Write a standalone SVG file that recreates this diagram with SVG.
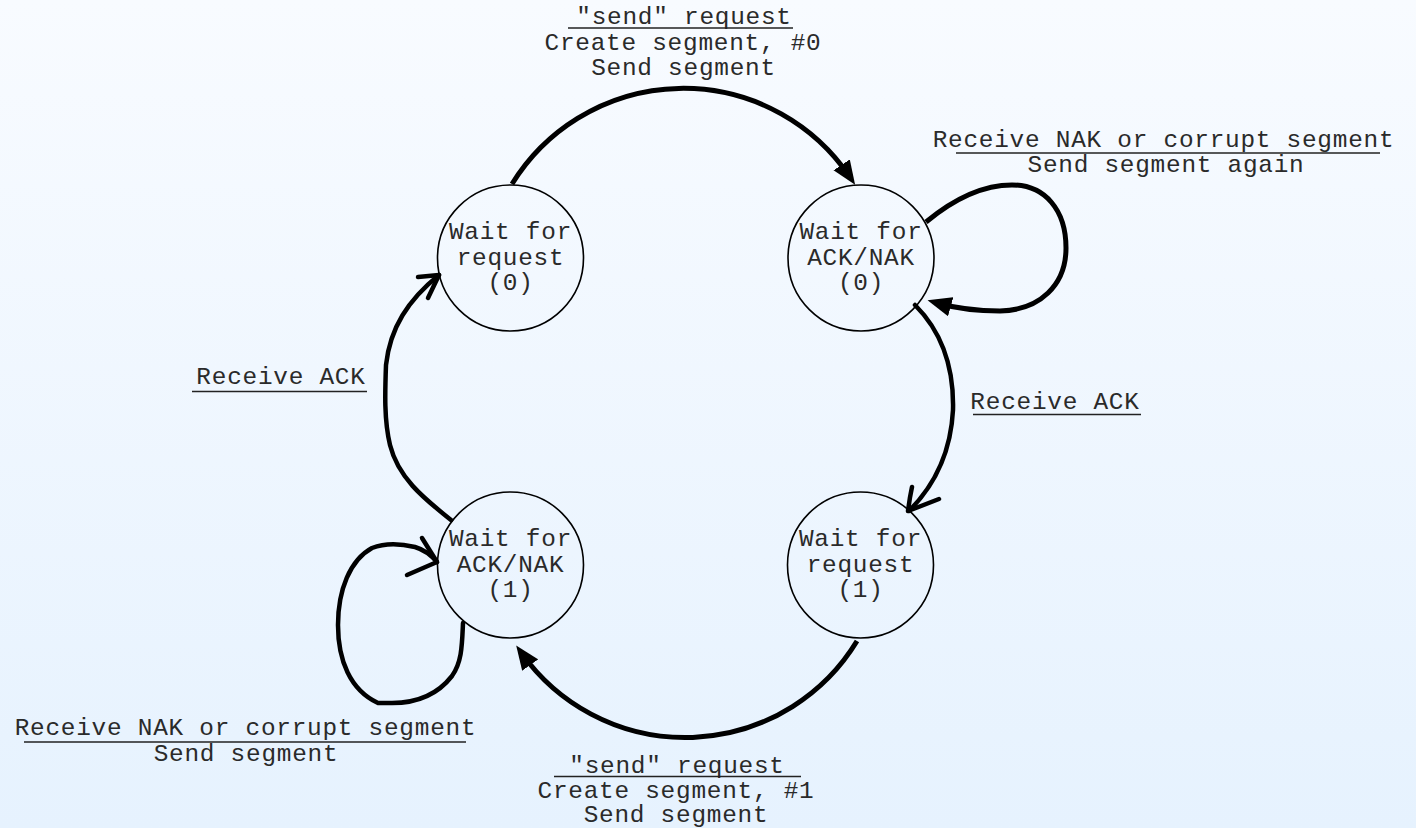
<svg xmlns="http://www.w3.org/2000/svg" width="1416" height="828" viewBox="0 0 1416 828">
  <defs>
    <linearGradient id="bg" x1="0" y1="0" x2="0" y2="1">
      <stop offset="0" stop-color="#f8fbff"/>
      <stop offset="1" stop-color="#e6f2fe"/>
    </linearGradient>
    <!-- filled arrowhead; path ends 9px behind the tip -->
    <marker id="tri" markerUnits="userSpaceOnUse" markerWidth="24" markerHeight="20" viewBox="0 0 22 18" refX="13" refY="9" orient="auto">
      <path d="M0,0 L22,9 L0,18 Z" fill="#000"/>
    </marker>
    <style>
      .state { fill: none; stroke: #000; stroke-width: 1.6; }
      .lbl { font-family: "Liberation Mono", "Courier New", monospace; font-size: 24.4px; letter-spacing: 0.75px; fill: #2a2a2a; text-anchor: middle; }
      .ul { stroke: #222; stroke-width: 1.6; }
      .edge { fill: none; stroke: #000; stroke-width: 5; }
      .hand { fill: none; stroke: #000; stroke-width: 4.5; stroke-linejoin: round; stroke-linecap: round; }
    </style>
  </defs>

  <rect width="1416" height="828" fill="url(#bg)"/>

  <!-- transitions -->
  <g id="connectors">
    <!-- wait for request (0) -> wait for ACK/NAK (0) -->
    <path class="edge" d="M512,184 A201,201 0 0,1 849.6,176.6" marker-end="url(#tri)"/>
    <!-- self loop on ACK/NAK (0) -->
    <path class="edge" d="M926,222 C955,198 985,185 1012,185 C1045,185 1066,210 1066,248 C1066,285 1040,310 1000,311 C975,311 955,308 937,303" marker-end="url(#tri)"/>
    <!-- ACK/NAK (0) -> request (1) -->
    <path class="hand" d="M915,305 C943,333 954,370 953,410 C951,450 936,484 909,511"/>
    <path class="hand" d="M912,487 C910,496 909,503 908,511 L939,499"/>
    <!-- request (1) -> ACK/NAK (1) -->
    <path class="edge" d="M857,641 A201,201 0 0,1 521.9,653.6" marker-end="url(#tri)"/>
    <!-- ACK/NAK (1) -> request (0) -->
    <path class="hand" d="M451,520 C422,497 398,477 390,445 C384,420 385,392 386,365 C390,328 408,300 439,275"/>
    <path class="hand" d="M418,277 L439,275 L428,298"/>
    <!-- self loop on ACK/NAK (1) -->
    <path class="hand" d="M463,623 C462,645 462,662 452,676 C438,694 418,703 392,703 L378,703 C350,690 338,660 338,625 C338,590 350,560 372,548 C385,543 402,544 415,547 C425,550 432,556 437,562"/>
    <path class="hand" d="M422,538 L437,562 L407,575"/>
  </g>

  <g id="s-req0">
    <circle class="state" cx="510.5" cy="258" r="73"/>
    <text class="lbl" x="510.5" y="239">Wait for</text>
    <text class="lbl" x="510.5" y="264.5">request</text>
    <text class="lbl" x="510.5" y="290">(0)</text>
  </g>
  <g id="s-ack0">
    <circle class="state" cx="861" cy="258" r="73"/>
    <text class="lbl" x="861" y="239">Wait for</text>
    <text class="lbl" x="861" y="264.5">ACK/NAK</text>
    <text class="lbl" x="861" y="290">(0)</text>
  </g>
  <g id="s-ack1">
    <circle class="state" cx="510.5" cy="565" r="73"/>
    <text class="lbl" x="510.5" y="546">Wait for</text>
    <text class="lbl" x="510.5" y="571.5">ACK/NAK</text>
    <text class="lbl" x="510.5" y="597">(1)</text>
  </g>
  <g id="s-req1">
    <circle class="state" cx="860.5" cy="565" r="73"/>
    <text class="lbl" x="860.5" y="546">Wait for</text>
    <text class="lbl" x="860.5" y="571.5">request</text>
    <text class="lbl" x="860.5" y="597">(1)</text>
  </g>

  <!-- transition labels -->
  <g id="lbl-send0">
    <text class="lbl" x="684" y="24">"send" request</text>
    <line class="ul" x1="568" y1="28" x2="793" y2="28"/>
    <text class="lbl" x="683" y="50">Create segment, #0</text>
    <text class="lbl" x="683.5" y="75">Send segment</text>
  </g>
  <g id="lbl-nak0">
    <text class="lbl" x="1163.5" y="147">Receive NAK or corrupt segment</text>
    <line class="ul" x1="956" y1="153" x2="1380" y2="153"/>
    <text class="lbl" x="1166" y="172">Send segment again</text>
  </g>
  <g id="lbl-ack0">
    <text class="lbl" x="1055" y="409">Receive ACK</text>
    <line class="ul" x1="973" y1="414.5" x2="1141" y2="414.5"/>
  </g>
  <g id="lbl-ack1">
    <text class="lbl" x="281" y="384">Receive ACK</text>
    <line class="ul" x1="192" y1="391.5" x2="367" y2="391.5"/>
  </g>
  <g id="lbl-send1">
    <text class="lbl" x="677" y="773">"send" request</text>
    <line class="ul" x1="554" y1="776.5" x2="801" y2="776.5"/>
    <text class="lbl" x="676" y="797.5">Create segment, #1</text>
    <text class="lbl" x="676" y="822">Send segment</text>
  </g>
  <g id="lbl-nak1">
    <text class="lbl" x="245.5" y="735">Receive NAK or corrupt segment</text>
    <line class="ul" x1="24" y1="742" x2="466" y2="742"/>
    <text class="lbl" x="246" y="761">Send segment</text>
  </g>
</svg>
